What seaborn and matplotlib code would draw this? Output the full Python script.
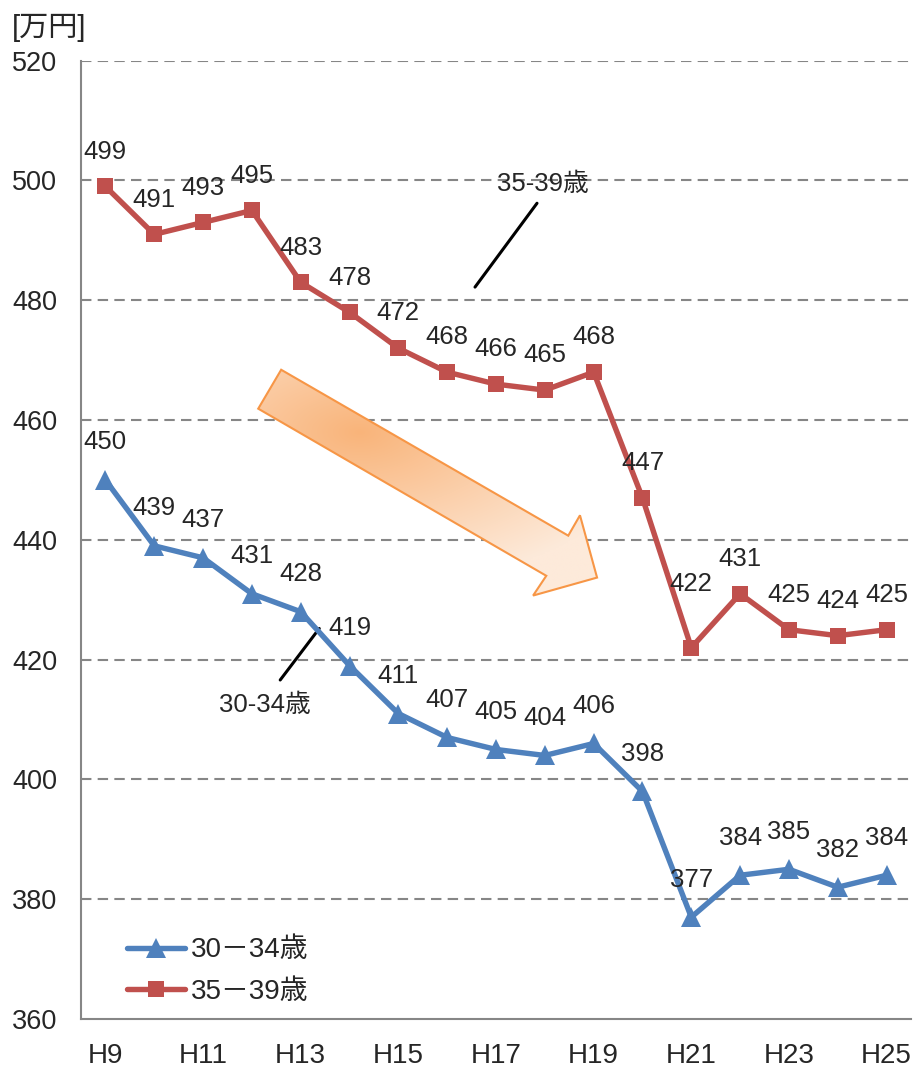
"""Average annual income by age group (H9-H25)"""

import matplotlib
matplotlib.use('Agg')
import matplotlib.pyplot as plt
from matplotlib.patches import Polygon
import numpy as np
import pandas as pd
import seaborn as sns

years = ['H9', 'H10', 'H11', 'H12', 'H13', 'H14', 'H15', 'H16', 'H17',
         'H18', 'H19', 'H20', 'H21', 'H22', 'H23', 'H24', 'H25']
age_30_34 = [450, 439, 437, 431, 428, 419, 411, 407, 405, 404, 406, 398,
             377, 384, 385, 382, 384]
age_35_39 = [499, 491, 493, 495, 483, 478, 472, 468, 466, 465, 468, 447,
             422, 431, 425, 424, 425]
series_names = ['30－34歳', '35－39歳']
y_ticks = [360, 380, 400, 420, 440, 460, 480, 500, 520]

blue = '#4F81BD'
red = '#C0504D'
grey = '#868686'

df = pd.DataFrame({
    'idx': list(range(len(years))) * 2,
    'value': age_30_34 + age_35_39,
    'group': [series_names[0]] * len(years) + [series_names[1]] * len(years),
})

sns.set_style('white')
plt.rcParams['font.family'] = ['Liberation Sans', 'Noto Sans CJK JP', 'DejaVu Sans']

fig = plt.figure(figsize=(9.22, 10.74), dpi=100)
ax = fig.add_axes([81 / 922, 1 - 1019 / 1074, 830 / 922, 958.3 / 1074])

# gridlines
for v in y_ticks[1:]:
    ax.axhline(v, color=grey, lw=1.5, ls=(0, (5, 3)), zorder=0)

sns.lineplot(data=df, x='idx', y='value', hue='group', style='group',
             palette={series_names[0]: blue, series_names[1]: red},
             markers={series_names[0]: '^', series_names[1]: 's'},
             dashes=False, linewidth=3.9, markersize=12,
             markeredgewidth=0, ax=ax, zorder=3)
for ln in ax.lines:
    if ln.get_marker() == '^':
        ln.set_markersize(15)

# data labels
for i, v in enumerate(age_35_39):
    off = 46 if v == 422 else 25
    ax.annotate(str(v), (i, v), xytext=(0, off), textcoords='offset points',
                ha='center', va='center', fontsize=18.5)
for i, v in enumerate(age_30_34):
    ax.annotate(str(v), (i, v), xytext=(0, 27), textcoords='offset points',
                ha='center', va='center', fontsize=18.5)

# series callouts
ax.plot([7.57, 8.84], [482.2, 496.2], color='black', lw=2.2, zorder=2)
ax.text(8.96, 499.4, '35-39歳', ha='center', va='center', fontsize=18.5)
ax.plot([3.58, 4.38], [416.6, 425.2], color='black', lw=2.2, zorder=2)
ax.text(3.27, 412.5, '30-34歳', ha='center', va='center', fontsize=18.5)

# big downward arrow with gradient fill
arrow_pts = np.array([[3.60, 468.4], [9.48, 440.7], [9.72, 444.1], [10.07, 433.7],
                      [8.76, 430.7], [9.03, 434.0], [3.13, 461.9]])
arrow = Polygon(arrow_pts, closed=True, facecolor='none', edgecolor='#F79646',
                lw=1.5, zorder=2.5)
ax.add_patch(arrow)
gx, gy = np.meshgrid(np.linspace(3.0, 10.2, 200), np.linspace(429, 470, 200))
dist = np.hypot((gx - 5.2) / 6.0, (gy - 458.0) / 26.0)
t = np.clip(dist, 0, 1)[..., None]
dark = np.array([249, 180, 122]) / 255
light = np.array([253, 234, 218]) / 255
img = dark * (1 - t) + light * t
im = ax.imshow(img, extent=[3.0, 10.2, 429, 470], origin='lower',
               aspect='auto', zorder=2.4, interpolation='bilinear')
clip = Polygon(arrow_pts, closed=True, transform=ax.transData)
im.set_clip_path(clip)

ax.set_xlim(-0.5, len(years) - 0.5)
ax.set_ylim(360, 520)
ax.set_yticks(y_ticks)
ax.set_yticklabels([str(v) for v in y_ticks], fontsize=19.5)
ax.set_xticks(np.arange(-0.5, len(years), 1.0))
ax.set_xticklabels([])
ax.set_xticks(range(0, len(years), 2), minor=True)
ax.set_xticklabels(years[::2], minor=True, fontsize=20)
ax.tick_params(axis='x', which='major', length=7, width=1.5, color=grey, direction='out')
ax.tick_params(axis='x', which='minor', length=0, pad=17)
ax.tick_params(axis='y', length=8, width=1.5, color=grey, direction='out', pad=9)
ax.set_xlabel('')
ax.set_ylabel('')

for side in ['top', 'right']:
    ax.spines[side].set_visible(False)
for side in ['left', 'bottom']:
    ax.spines[side].set_color(grey)
    ax.spines[side].set_linewidth(1.5)

leg = ax.legend(loc='lower left', bbox_to_anchor=(0.025, -0.011), frameon=False,
                fontsize=20, handlelength=2.1, handletextpad=0.2, labelspacing=0.55,
                title=None)
for h in leg.legend_handles:
    h.set_linewidth(3.9)
    h.set_markersize(15 if h.get_marker() == '^' else 12)

fig.text(12 / 922, 1 - 28 / 1074, '[万円]', fontsize=21, ha='left', va='center')

fig.savefig('out.png', dpi=100)
